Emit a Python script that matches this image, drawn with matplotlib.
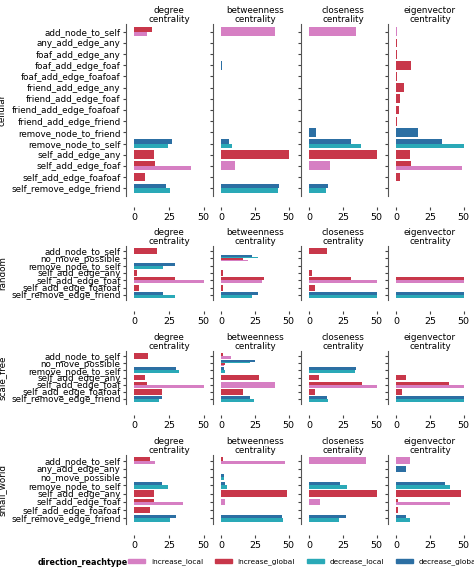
import matplotlib
matplotlib.use("Agg")
import matplotlib.pyplot as plt
from matplotlib.patches import Patch

measures = ["degree\ncentrality", "betweenness\ncentrality", "closeness\ncentrality", "eigenvector\ncentrality"]
series = ["decrease_global", "decrease_local", "increase_global", "increase_local"]
colors = {"increase_local": "#d67fc3", "increase_global": "#c8374a",
          "decrease_local": "#2aa9b7", "decrease_global": "#2c6fa3"}

# values per category: [degree, betweenness, closeness, eigenvector]; 0 = absent
cell_cats = ["add_node_to_self", "any_add_edge_any", "foaf_add_edge_any", "foaf_add_edge_foaf",
             "foaf_add_edge_foafoaf", "friend_add_edge_any", "friend_add_edge_foaf",
             "friend_add_edge_foafoaf", "friend_add_edge_friend", "remove_node_to_friend",
             "remove_node_to_self", "self_add_edge_any", "self_add_edge_foaf",
             "self_add_edge_foafoaf", "self_remove_edge_friend"]
cell_dg = [[0,0,0,0],[0,0,0,0],[0,0,0,0],[0,0.6,0,0],[0,0,0,0],[0,0,0,0],[0,0,0,0],[0,0,0,0],
           [0,0,0,0],[0,0,5,16],[27,6,31,34],[0,0,0,0],[0,0,0,0],[0,0,0,0],[23,43,14,0]]
cell_dl = [[0,0,0,0],[0,0,0,0],[0,0,0,0],[0,0,0,0],[0,0,0,0],[0,0,0,0],[0,0,0,0],[0,0,0,0],
           [0,0,0,0],[0,0,0,0],[24,8,38,50],[0,0,0,0],[0,0,0,0],[0,0,0,0],[26,42,12,0]]
cell_ig = [[13,0,0,0],[0,0,0,0.6],[0,0,0,0.6],[0,0,0,11],[0,0,0,0.6],[0,0,0,6],[0,0,0,3],[0,0,0,2],
           [0,0,0,0.6],[0,0,0,0],[0,0,0,0],[14,50,50,10],[15,0,0,11],[8,0,0,3],[0,0,0,0]]
cell_il = [[9,40,35,0.6],[0,0,0,0],[0,0,0,0],[0,0,0,0],[0,0,0,0],[0,0,0,0],[0,0,0,0],[0,0,0,0],
           [0,0,0,0],[0,0,0,0],[0,0,0,0],[0,0,0,0],[41,10,15,49],[0,0,0,0],[0,0,0,0]]

rand_cats = ["add_node_to_self", "no_move_possible", "remove_node_to_self", "self_add_edge_any",
             "self_add_edge_foaf", "self_add_edge_foafoaf", "self_remove_edge_friend"]
rand_dg = [[0,0,0,0],[0,23,0,0],[29,0,0,0],[0,0,0,0],[0,0,0,0],[0,0,0,0],[21,27,50,50]]
rand_dl = [[0,0,0,0],[0,27,0,0],[21,0,0,0],[0,0,0,0],[0,0,0,0],[0,0,0,0],[29,23,50,50]]
rand_ig = [[16,0,13,0],[0,16,0,0],[0,0,0,0],[2,1,2,0],[29,32,31,50],[3,1,4,0],[0,0,0,0]]
rand_il = [[0,0,0,0],[0,20,0,0],[0,0,0,0],[0,0,0,0],[50,30,50,50],[0,0,0,0],[0,0,0,0]]

sf_cats = rand_cats
sf_dg = [[0,0,0,0],[0,25,0,0],[30,2,35,0],[0,0,0,0],[0,0,0,0],[0,0,0,0],[20,21,13,50]]
sf_dl = [[0,0,0,0],[0,21,0,0],[32,3,34,0],[0,0,0,0],[0,0,0,0],[0,0,0,0],[18,24,14,50]]
sf_ig = [[10,1,0,0],[0,3,0,0],[0,0,0,0],[8,28,7,7],[9,0,39,39],[20,16,4,4],[0,0,0,0]]
sf_il = [[0,7,0,0],[0,2,0,0],[0,0,0,0],[0,0,0,0],[50,40,50,50],[0,0,0,0],[0,0,0,0]]

sw_cats = ["add_node_to_self", "any_add_edge_any", "no_move_possible", "remove_node_to_self",
           "self_add_edge_any", "self_add_edge_foaf", "self_add_edge_foafoaf", "self_remove_edge_friend"]
sw_dg = [[0,0,0,0],[0,0,0,7],[0,2,0,0],[20,3,23,36],[0,0,0,0],[0,0,0,0],[0,0,0,0],[30,45,27,7]]
sw_dl = [[0,0,0,0],[0,0,0,0],[0,2,0,0],[24,4,28,40],[0,0,0,0],[0,0,0,0],[0,0,0,0],[26,46,22,10]]
sw_ig = [[11,1,0,0],[0,0,0,0],[0,0,0,0],[0,0,0,0],[14,49,50,48],[14,0,0,1],[11,0,0,1],[0,0,0,0]]
sw_il = [[15,47,42,10],[0,0,0,0],[0,0,0,0],[0,0,0,0],[0,0,0,0],[35,3,8,40],[0,0,0,0],[0,0,0,0]]

rows = [("cellular", cell_cats, [cell_dg, cell_dl, cell_ig, cell_il], 24, 196),
        ("random", rand_cats, [rand_dg, rand_dl, rand_ig, rand_il], 246, 300),
        ("scale_free", sf_cats, [sf_dg, sf_dl, sf_ig, sf_il], 351, 404),
        ("small_world", sw_cats, [sw_dg, sw_dl, sw_ig, sw_il], 455, 524)]

W, H = 474, 569
fig = plt.figure(figsize=(W/100, H/100), dpi=100)
col_x = [(133, 205), (220, 290), (308, 378), (395, 465)]
fs = 6.3
for name, cats, data, top, bot in rows:
    n = len(cats)
    for j, (x0, x1) in enumerate(col_x):
        ax = fig.add_axes([x0/W, 1-bot/H, (x1-x0)/W, (bot-top)/H])
        for i in range(n):
            present = [k for k in range(4) if data[k][i][j] > 0]
            m = len(present)
            if m == 0:
                continue
            h = 0.8/m
            for r, k in enumerate(present):
                y = i - 0.4 + h/2 + r*h
                ax.barh(y, data[k][i][j], height=h, color=colors[series[k]], left=0)
        ax.set_xlim(-1, 51)
        ax.set_ylim(n - 0.3, -0.7)
        ax.set_yticks(range(n))
        ax.set_xticks([0, 25, 50])
        ax.tick_params(labelsize=fs, length=2.5, width=0.8, color="#444444", pad=1.5)
        ax.tick_params(axis="x", labelsize=fs + 0.5)
        if j == 0:
            ax.set_yticklabels(cats)
            ax.set_ylabel(name, fontsize=fs, labelpad=3)
        else:
            ax.set_yticklabels([])
        for s in ["top", "right", "bottom"]:
            ax.spines[s].set_visible(False)
        ax.spines["left"].set_position(("outward", 5))
        ax.spines["left"].set_color("#555555")
        ax.spines["bottom"].set_position(("outward", 8))
        ax.set_title(measures[j], fontsize=fs, linespacing=1.0, pad=1)
        ax.set_facecolor("none")

handles = [Patch(color=colors[s], label=s) for s in ["increase_local", "increase_global", "decrease_local", "decrease_global"]]
fig.text(38/W, 1-562/H, "direction_reachtype", fontsize=5.8, weight="bold", va="center")
fig.legend(handles=handles, loc="center left", bbox_to_anchor=(125/W, 1-562/H), ncol=4, frameon=False,
           fontsize=5.3, handlelength=2.3, handleheight=0.5, columnspacing=1.6, borderaxespad=0)
fig.savefig("out.png", dpi=100)
